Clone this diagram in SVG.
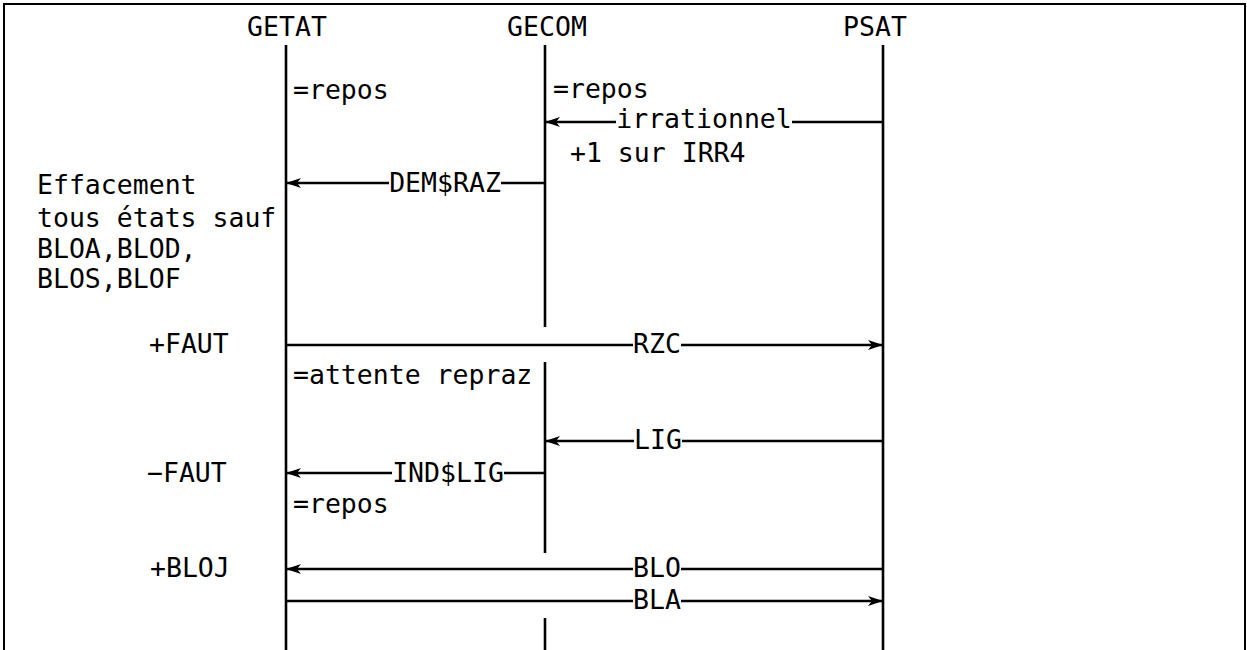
<svg xmlns="http://www.w3.org/2000/svg" width="1247" height="650" viewBox="0 0 1247 650">
<style>
text{font-family:"DejaVu Sans Mono","Liberation Mono",monospace;font-size:26.5px;fill:#000}
.mid{text-anchor:middle}
.life{stroke:#000;stroke-width:2.6;fill:none}
.msg{stroke:#000;stroke-width:2.4;fill:none;marker-end:url(#ah)}
</style>
<defs>
<marker id="ah" markerUnits="userSpaceOnUse" markerWidth="15" markerHeight="10" viewBox="0 0 15 10" refX="15" refY="5" orient="auto">
<path d="M0,0 L15,5 L0,10 L4,5 z" fill="#000"/>
</marker>
</defs>
<rect width="1247" height="650" fill="#fff"/>
<rect x="4" y="4" width="1241" height="700" fill="none" stroke="#000" stroke-width="2"/>
<g id="getat">
<text class="mid" x="287" y="36">GETAT</text>
<line class="life" x1="286" y1="45" x2="286" y2="650"/>
<text x="293" y="99">=repos</text>
<text x="37" y="194">Effacement</text>
<text x="37" y="227">tous états sauf</text>
<text x="37" y="258">BLOA,BLOD,</text>
<text x="37" y="288">BLOS,BLOF</text>
<text x="149" y="353">+FAUT</text>
<text x="293" y="384">=attente repraz</text>
<text x="147" y="482">−FAUT</text>
<text x="293" y="513">=repos</text>
<text x="150" y="577">+BLOJ</text>
</g>
<g id="gecom">
<text class="mid" x="547" y="36">GECOM</text>
<line class="life" x1="545" y1="45" x2="545" y2="327"/>
<line class="life" x1="545" y1="362" x2="545" y2="553"/>
<line class="life" x1="545" y1="618" x2="545" y2="650"/>
<text x="553" y="98">=repos</text>
<text x="570" y="162">+1 sur IRR4</text>
</g>
<g id="psat">
<text class="mid" x="875" y="36">PSAT</text>
<line class="life" x1="883" y1="45" x2="883" y2="650"/>
</g>
<g id="connectors">
<path class="msg" d="M883,122 H792 M616,122 H545"/>
<text class="mid" x="704" y="128">irrationnel</text>
<path class="msg" d="M545,183 H501 M389,183 H286"/>
<text class="mid" x="445" y="192">DEM$RAZ</text>
<path class="msg" d="M286,345 H633 M681,345 H883"/>
<text class="mid" x="657" y="353">RZC</text>
<path class="msg" d="M883,441 H682 M634,441 H545"/>
<text class="mid" x="658" y="449">LIG</text>
<path class="msg" d="M545,473 H504 M392,473 H286"/>
<text class="mid" x="448" y="482">IND$LIG</text>
<path class="msg" d="M883,569 H681 M633,569 H286"/>
<text class="mid" x="657" y="577">BLO</text>
<path class="msg" d="M286,601 H633 M681,601 H883"/>
<text class="mid" x="657" y="609">BLA</text>
</g>
</svg>
